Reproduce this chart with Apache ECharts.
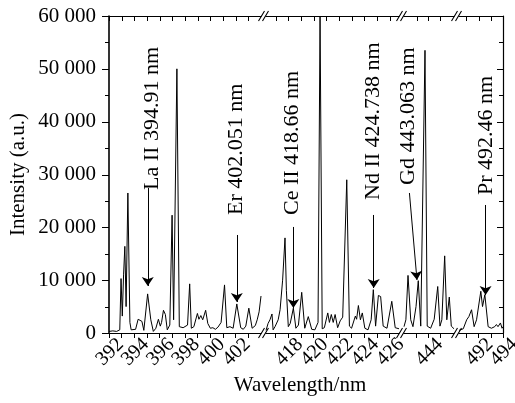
<!DOCTYPE html>
<html><head><meta charset="utf-8">
<script src="https://cdn.jsdelivr.net/npm/echarts@6/dist/echarts.min.js"></script>
<style>html,body{margin:0;padding:0;background:#fff}#c{width:515px;height:403px}</style>
</head><body><div id="c"></div>
<script>
// ---- data (wavelength nm, intensity a.u.) ----
const seg1 = [[392.0,300],[392.3,400],[392.6,300],[392.85,600],[392.95,10300],[393.05,3200],[393.15,11000],[393.25,16400],[393.35,5000],[393.49,26500],[393.65,2000],[393.75,600],[393.9,800],[394.1,700],[394.3,2600],[394.45,2400],[394.6,2200],[394.75,500],[395.05,7400],[395.3,2500],[395.5,300],[395.7,900],[395.9,2600],[396.05,1300],[396.15,2000],[396.3,4300],[396.45,3500],[396.6,600],[396.8,1500],[396.98,22300],[397.1,2500],[397.36,50000],[397.55,1200],[397.7,900],[397.85,1000],[398.0,700],[398.2,1500],[398.37,9300],[398.5,900],[398.7,1200],[398.98,3700],[399.1,2600],[399.25,3300],[399.4,2500],[399.63,4300],[399.8,1800],[400.0,900],[400.2,1000],[400.4,700],[400.6,1100],[400.85,2000],[401.12,9100],[401.3,1000],[401.55,1200],[401.8,900],[402.09,5500],[402.4,1000],[402.6,700],[402.8,1300],[403.04,4700],[403.3,900],[403.55,1400],[403.7,2500],[403.85,4000],[404.0,7000]];
const seg2 = [[416.24,500],[416.4,1800],[416.55,2500],[416.71,3600],[416.8,600],[416.95,1200],[417.2,2500],[417.35,4400],[417.55,10000],[417.74,18000],[417.85,8000],[418.0,1200],[418.15,1800],[418.4,4700],[418.6,900],[418.8,1500],[419.06,7700],[419.3,900],[419.58,3100],[419.85,700],[420.1,600],[420.35,2000],[420.51,60000],[420.68,800],[420.85,1000],[421.12,3800],[421.25,2000],[421.4,3500],[421.55,2000],[421.7,3500],[421.9,1000],[422.1,2300],[422.3,3000],[422.62,29000],[422.83,1300],[423.0,900],[423.3,3200],[423.4,2600],[423.54,5200],[423.7,2500],[423.85,3800],[424.05,900],[424.3,600],[424.55,2500],[424.72,8200],[424.9,1300],[425.12,7100],[425.3,6900],[425.5,1300],[425.8,900],[426.18,6000],[426.45,1000],[426.75,800]];
const seg3 = [[441.94,1200],[442.1,2500],[442.28,10900],[442.51,2500],[442.7,1200],[442.96,5000],[443.15,9900],[443.36,1300],[443.72,53500],[443.91,1300],[444.2,900],[444.5,2600],[444.8,8800],[444.99,1300],[445.15,2500],[445.39,14600],[445.57,2500],[445.78,6800],[445.95,1300],[446.18,800]];
const seg4 = [[490.39,500],[490.47,500],[490.74,800],[491.02,2500],[491.2,3100],[491.42,4400],[491.63,1200],[491.83,2500],[492.18,7900],[492.32,5000],[492.51,7250],[492.78,1200],[493.05,900],[493.32,1200],[493.46,1600],[493.59,1200],[493.79,1900],[493.92,900],[494.0,1200]];
const segments = [seg1, seg2, seg3, seg4];
const segRanges = [[392,404],[416.237,426.75],[441.94,446.18],[490.39,494]];
const segTicks = [[392,393,394,395,396,397,398,399,400,401,402,403],[417,418,419,420,421,422,423,424,425,426],[443,444,445],[491,492,493,494]];
const segLabels = [[392,394,396,398,400,402],[418,420,422,424,426],[444],[492,494]];
const yTicks = [0,10000,20000,30000,40000,50000,60000];
const yMinorTicks = [5000,15000,25000,35000,45000,55000];
const annotations = [
  {text:'La II 394.91 nm', seg:0, from:[395.06,27450], to:[395.06,8900], at:[395.4,27070]},
  {text:'Er 402.051 nm', seg:0, from:[402.09,18550], to:[402.09,5870], at:[402.04,22340]},
  {text:'Ce II 418.66 nm', seg:1, from:[418.4,20070], to:[418.4,4730], at:[418.29,22340]},
  {text:'Nd II 424.738 nm', seg:1, from:[424.75,22340], to:[424.75,8520], at:[424.69,25180]},
  {text:'Gd 443.063 nm', seg:2, from:[442.4,26500], to:[443.04,10030], at:[442.28,28020]},
  {text:'Pr 492.46 nm', seg:3, from:[492.57,24230], to:[492.57,7190], at:[492.59,26120]}
];
const xName = 'Wavelength/nm';
const yName = 'Intensity (a.u.)';

// ---- layout ----
const FONT = 'Liberation Serif, Times New Roman, serif';
const gridBoxes = [[109,152],[266,133],[404,50],[459,44]];
const TOP = 16, BOTTOM = 70; // grid top & bottom (px)
const chart = echarts.init(document.getElementById('c'), null, {renderer:'canvas'});

const grids = [], xAxes = [], yAxes = [], series = [];
gridBoxes.forEach((b, i) => {
  grids.push({left:b[0], width:b[1], top:TOP, bottom:BOTTOM, containLabel:false});
  xAxes.push({
    type:'value', gridIndex:i, position:'bottom', min:segRanges[i][0], max:segRanges[i][1],
    axisLine:{show:true, onZero:false, lineStyle:{color:'#000', width:1.2}},
    axisTick:{show:true, inside:false, length:5, customValues:segTicks[i], lineStyle:{color:'#000', width:1}},
    axisLabel:{show:false},
    splitLine:{show:false}
  });
  xAxes.push({
    type:'value', gridIndex:i, position:'top', min:segRanges[i][0], max:segRanges[i][1],
    axisLine:{show:true, onZero:false, lineStyle:{color:'#000', width:1.2}},
    axisTick:{show:false}, axisLabel:{show:false}, splitLine:{show:false}
  });
  const y = {type:'value', gridIndex:i, min:0, max:60000, interval:10000, splitLine:{show:false}};
  if (i === 0) {
    Object.assign(y, {
      position:'left',
      name:yName, nameLocation:'middle', nameRotate:90, nameGap:80,
      nameTextStyle:{fontSize:21, fontFamily:FONT, color:'#000'},
      axisLine:{show:true, lineStyle:{color:'#000', width:1.6}},
      axisTick:{show:false},
      axisLabel:{show:true, margin:13, fontSize:21, fontFamily:FONT, color:'#000',
        showMinLabel:true, showMaxLabel:true,
        formatter: v => v === 0 ? '0' : (v/1000) + ' 000'}
    });
  } else if (i === 3) {
    Object.assign(y, {
      position:'right',
      axisLine:{show:true, lineStyle:{color:'#000', width:1.2}},
      axisTick:{show:false}, axisLabel:{show:false}
    });
  } else {
    Object.assign(y, {show:false});
  }
  yAxes.push(y);
  const marks = annotations.filter(a => a.seg === i).map(a => [{coord:a.from},{coord:a.to}]);
  series.push({
    type:'line', xAxisIndex:2*i, yAxisIndex:i, data:segments[i],
    symbol:'none', showSymbol:false, smooth:false, clip:true,
    lineStyle:{color:'#000', width:1}, silent:true, animation:false,
    markLine:{silent:true, animation:false, symbol:['none','arrow'], symbolSize:9,
      lineStyle:{color:'#000', width:1, type:'solid'}, label:{show:false},
      emphasis:{disabled:true}, data:marks}
  });
});

chart.setOption({
  animation:false, backgroundColor:'#fff',
  grid:grids, xAxis:xAxes, yAxis:yAxes, series:series
});

// ---- decorations: ticks/labels (through the axis scales), annotation texts, axis name, break marks ----
const graphic = [];
const H = 403;
const yTop = TOP, yBot = H - BOTTOM;
const xLeft = gridBoxes[0][0], xRight = gridBoxes[3][0] + gridBoxes[3][1];
const tickLine = (x1,y1,x2,y2) => graphic.push({type:'line', silent:true, shape:{x1,y1,x2,y2}, style:{stroke:'#000', lineWidth:1}});
gridBoxes.forEach((b, i) => {
  segTicks[i].forEach(t => {
    const x = Math.round(chart.convertToPixel({xAxisIndex:2*i+1}, t)) + 0.5;
    tickLine(x, yTop, x, yTop + 5);
  });
  segLabels[i].forEach(t => {
    const x = chart.convertToPixel({xAxisIndex:2*i}, t);
    graphic.push({type:'text', x:x + 1, y:yBot + 19, rotation:Math.PI/4, silent:true,
      style:{text:String(t), fontSize:20, fontFamily:FONT, fill:'#000', textAlign:'center', textVerticalAlign:'middle'}});
  });
});
yTicks.forEach(v => {
  const y = Math.round(chart.convertToPixel({yAxisIndex:0}, v)) + 0.5;
  tickLine(xLeft - 7, y, xLeft, y);
  tickLine(xRight - 6, y, xRight, y);
});
yMinorTicks.forEach(v => {
  const y = Math.round(chart.convertToPixel({yAxisIndex:0}, v)) + 0.5;
  tickLine(xLeft - 4, y, xLeft, y);
  tickLine(xRight - 4, y, xRight, y);
});
annotations.forEach(a => {
  const p = chart.convertToPixel({xAxisIndex:2*a.seg, yAxisIndex:a.seg}, a.at);
  graphic.push({type:'text', x:p[0], y:p[1], rotation:Math.PI/2, silent:true,
    style:{text:a.text, fontSize:22, fontFamily:FONT, fill:'#000', textAlign:'left', textVerticalAlign:'middle'}});
});
graphic.push({type:'text', x:300, y:385, silent:true,
  style:{text:xName, fontSize:21, fontFamily:FONT, fill:'#000', textAlign:'center', textVerticalAlign:'middle'}});
for (let i = 0; i < gridBoxes.length - 1; i++) {
  const e = gridBoxes[i][0] + gridBoxes[i][1];
  const s = gridBoxes[i+1][0];
  const c = (e + s) / 2;
  [yTop, yBot].forEach(yy => {
    graphic.push({type:'line', silent:true, shape:{x1:e, y1:yy, x2:c-2, y2:yy}, style:{stroke:'#000', lineWidth:1.2}});
    graphic.push({type:'line', silent:true, shape:{x1:c+2, y1:yy, x2:s, y2:yy}, style:{stroke:'#000', lineWidth:1.2}});
    [c-2, c+2].forEach(cx => {
      graphic.push({type:'line', silent:true, shape:{x1:cx-3, y1:yy+5, x2:cx+3, y2:yy-5}, style:{stroke:'#000', lineWidth:1.1}});
    });
  });
}
chart.setOption({graphic:graphic});
</script></body></html>
